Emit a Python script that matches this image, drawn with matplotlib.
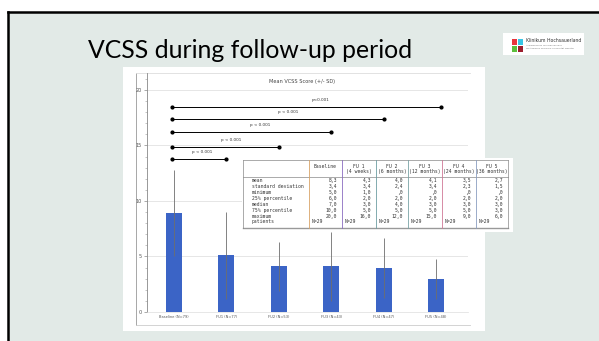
import numpy as np
import matplotlib.pyplot as plt
from matplotlib.patches import Rectangle
from matplotlib.lines import Line2D
from matplotlib.ticker import MultipleLocator

W, H = 599, 341

# bar chart data
groups = ["Baseline (N=79)", "FU1 (N=77)", "FU2 (N=53)", "FU3 (N=43)", "FU4 (N=47)", "FU5 (N=48)"]
means = [8.9, 5.1, 4.1, 4.1, 4.0, 3.0]
sds = [3.9, 3.9, 2.2, 3.1, 2.7, 1.8]

# significance brackets (baseline vs. group)
sig_ends = [1, 2, 3, 4, 5.1]
sig_levels = [13.8, 14.9, 16.2, 17.35, 18.5]
sig_labels = ["p < 0.001", "p < 0.001", "p < 0.001", "p < 0.001", "p<0.001"]

# table data
tab_cols = ["Baseline", "FU 1\n(4 weeks)", "FU 2\n(6 months)", "FU 3\n(12 months)",
            "FU 4\n(24 months)", "FU 5\n(36 months)"]
tab_rows = ["mean", "standard deviation", "minimum", "25% percentile", "median",
            "75% percentile", "maximum", "patients"]
tab_mean = [8.3, 4.3, 4.0, 4.1, 3.5, 2.7]
tab_sd = [3.4, 3.4, 2.4, 3.4, 2.3, 1.5]
tab_min = [5.0, 1.0, 0.0, 0.0, 0.0, 0.0]
tab_p25 = [6.0, 2.0, 2.0, 2.0, 2.0, 2.0]
tab_median = [7.0, 3.0, 4.0, 3.0, 3.0, 3.0]
tab_p75 = [10.0, 5.0, 5.0, 5.0, 5.0, 3.0]
tab_max = [20.0, 16.0, 12.0, 15.0, 9.0, 6.0]
tab_n = [29, 29, 29, 29, 29, 29]


def box(x0, y0, x1, y1):
    # pixel box (top-left origin) -> figure fraction rect
    return [x0 / W, 1 - y1 / H, (x1 - x0) / W, (y1 - y0) / H]


def fmt(v):
    s = f"{v:.1f}".replace(".", ",")
    return s[1:] if s.startswith("0") else s


fig = plt.figure(figsize=(W / 100, H / 100), dpi=100)
fig.patch.set_facecolor("white")

#--------------------------------------
# slide background + border
fig.add_artist(Rectangle((8 / W, 0), 1, 1 - 12 / H, transform=fig.transFigure,
                         facecolor="#e2eae7", edgecolor="none", zorder=-10))
fig.add_artist(Line2D([8 / W, 1], [1 - 12 / H, 1 - 12 / H], transform=fig.transFigure,
                      color="black", lw=1.8, zorder=-9))
fig.add_artist(Line2D([8 / W, 8 / W], [0, 1 - 12 / H], transform=fig.transFigure,
                      color="black", lw=1.8, zorder=-9))

fig.text(88 / W, 1 - 50 / H, "VCSS during follow-up period", fontsize=17.8,
         family="Lato", color="black", va="center", ha="left")

# chart picture background
r = box(123, 67, 485, 331)
fig.add_artist(Rectangle((r[0], r[1]), r[2], r[3], transform=fig.transFigure,
                         facecolor="white", edgecolor="none", zorder=-8))

#--------------------------------------
# logo
r = box(503, 33, 584, 55)
fig.add_artist(Rectangle((r[0], r[1]), r[2], r[3], transform=fig.transFigure,
                         facecolor="white", edgecolor="none", zorder=-8))
for (x0, y0, c) in [(512, 39, "#e8343c"), (517.5, 39, "#38c6e6"),
                    (512, 45.5, "#5cbf3c"), (517.5, 45.5, "#9c1e2e")]:
    r = box(x0, y0, x0 + 5, y0 + 6)
    fig.add_artist(Rectangle((r[0], r[1]), r[2], r[3], transform=fig.transFigure,
                             facecolor=c, edgecolor="none", zorder=-7))
fig.text(526 / W, 1 - 40.5 / H, "Klinikum Hochsauerland", fontsize=3.3,
         color="#333333", va="center")
fig.text(526 / W, 1 - 45.5 / H, "Akademisches Lehrkrankenhaus", fontsize=1.6,
         color="#777777", va="center")
fig.text(526 / W, 1 - 48.5 / H, "Westfälische Wilhelms-Universität Münster", fontsize=1.6,
         color="#777777", va="center")

#--------------------------------------
# chart frame
frame = fig.add_axes(box(136, 73, 470, 325))
frame.set_facecolor("none")
frame.set_xticks([])
frame.set_yticks([])
frame.spines["right"].set_visible(False)
frame.spines["left"].set_color("#999999")
frame.spines["top"].set_color("#dddddd")
frame.spines["bottom"].set_color("#cccccc")
for s in frame.spines.values():
    s.set_linewidth(0.6)

# bar chart
ax = fig.add_axes(box(147, 73, 468, 312))
ax.set_facecolor("none")
x = np.arange(len(groups))
ax.set_xlim(-0.515, 5.61)
ax.bar(x, means, width=0.305, color="#3b64c6", zorder=2)
ax.errorbar(x, means, yerr=sds, fmt="none", ecolor="#6e6e6e", elinewidth=0.6,
            capsize=0, zorder=3)

for end, lvl, lab in zip(sig_ends, sig_levels, sig_labels):
    x0 = -0.03
    ax.plot([x0, end], [lvl, lvl], color="black", lw=0.7, marker="o", ms=2.0, zorder=4)
    ax.text(x0 + 0.55 * (end - x0), lvl + 0.45, lab, fontsize=3.0, ha="center",
            va="bottom", color="#333333")

ax.set_xticks(x)
ax.set_xticklabels(groups, fontsize=2.6, color="#555555")
ax.tick_params(axis="x", length=0, pad=2.5)
ax.yaxis.set_major_locator(MultipleLocator(5))
ax.yaxis.set_minor_locator(MultipleLocator(1))
ax.set_ylim(0, 21.53)
ax.tick_params(axis="y", which="major", length=2.5, width=0.5, color="#888888",
               labelsize=3.5, labelcolor="#555555", pad=1.5)
ax.tick_params(axis="y", which="minor", length=1.3, width=0.4, color="#999999")
ax.yaxis.grid(True, color="#dcdcdc", lw=0.5)
ax.set_axisbelow(True)
ax.spines["top"].set_visible(False)
ax.spines["right"].set_visible(False)
ax.spines["left"].set_color("#888888")
ax.spines["left"].set_linewidth(0.6)
ax.spines["bottom"].set_color("#dddddd")
ax.spines["bottom"].set_linewidth(0.5)
ax.text((302 - 147) / 321, (312 - 81) / 239, "Mean VCSS Score (+/- SD)",
        transform=ax.transAxes, fontsize=3.6, color="#444444", ha="center", va="center")

#--------------------------------------
# statistics table (axes in pixel units)
tab = fig.add_axes(box(242, 158, 513, 232))
tab.set_zorder(5)
tab.set_facecolor("white")
tab.set_xlim(242, 513)
tab.set_ylim(232, 158)
tab.set_xticks([])
tab.set_yticks([])
for s in tab.spines.values():
    s.set_visible(False)

col_edges = [243, 309, 342, 376, 408, 442, 476, 508]
div_colors = ["#d8a468", "#8a6cc0", "#6e9ea2", "#7aa4a6", "#d07896", "#8a9ec0"]
top, hdr, bot = 160, 177, 228
tab.plot([col_edges[0], col_edges[-1]], [top, top], color="#888888", lw=0.5)
tab.plot([col_edges[0], col_edges[-1]], [hdr, hdr], color="#888888", lw=0.5)
tab.plot([col_edges[0], col_edges[-1]], [bot, bot], color="#999999", lw=1.0)
tab.plot([col_edges[0], col_edges[0]], [top, bot], color="#888888", lw=0.5)
tab.plot([col_edges[-1], col_edges[-1]], [top, bot], color="#888888", lw=0.5)
for xe, c in zip(col_edges[1:-1], div_colors):
    tab.plot([xe, xe], [top, bot], color=c, lw=0.6)

mono = "DejaVu Sans Mono"
for j, head in enumerate(tab_cols):
    cx = (col_edges[j + 1] + col_edges[j + 2]) / 2
    for k, line in enumerate(head.split("\n")):
        tab.text(cx, 166.5 + k * 5.2, line, fontsize=3.4, family=mono, ha="center",
                 va="center", color="#333333")

values = [tab_mean, tab_sd, tab_min, tab_p25, tab_median, tab_p75, tab_max]
for i, name in enumerate(tab_rows):
    yy = 181 + i * 5.85
    tab.text(252, yy, name, fontsize=3.4, family=mono, ha="left", va="center",
             color="#333333")
    for j in range(len(tab_cols)):
        if i < len(values):
            s = fmt(values[i][j])
            xr = col_edges[j + 2] - 5
            tab.text(xr, yy, s, fontsize=3.4, family=mono, ha="right", va="center",
                     color="#333333")
        else:
            tab.text(col_edges[j + 1] + 3, yy, f"N={tab_n[j]}", fontsize=3.4, family=mono,
                     ha="left", va="center", color="#333333")

fig.savefig("out.png", dpi=100)
